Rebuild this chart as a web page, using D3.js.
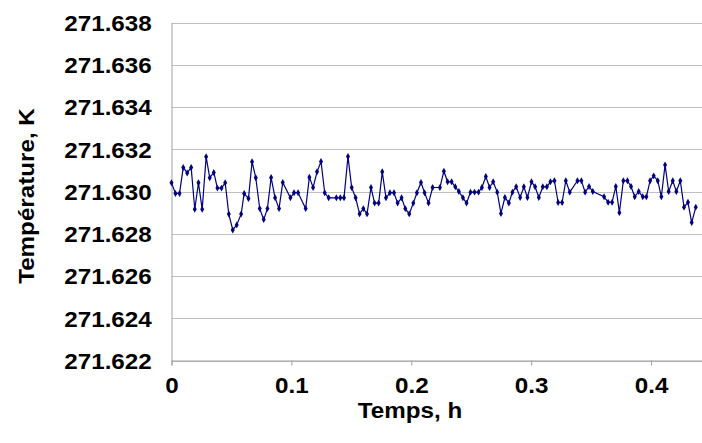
<!DOCTYPE html>
<html lang="en">
<head>
  <meta charset="UTF-8">
  <title>Température vs temps</title>
  <script src="https://cdnjs.cloudflare.com/ajax/libs/d3/7.8.5/d3.min.js"></script>
  <style>
    body {
      margin: 0;
      background: white;
    }
    svg {
      display: block;
      background: white;
    }
    text {
      font-family: "Liberation Sans", Arial, sans-serif;
      font-weight: bold;
      fill: black;
    }
    .grid line {
      stroke: #c0c0c0;
      shape-rendering: crispEdges;
    }
  </style>
</head>
<body>
  <script>
    // time, h
    var temps = [
      0.0000, 0.0033, 0.0067, 0.0098, 0.0131, 0.0164, 0.0194, 0.0225, 0.0256, 0.0289,
      0.0319, 0.0353, 0.0383, 0.0417, 0.0448, 0.0478, 0.0511, 0.0544, 0.0581, 0.0606,
      0.0642, 0.0672, 0.0703, 0.0736, 0.0769, 0.0800, 0.0831, 0.0864, 0.0897, 0.0928,
      0.0992, 0.1022, 0.1056, 0.1119, 0.1150, 0.1181, 0.1214, 0.1247, 0.1278, 0.1311,
      0.1375, 0.1408, 0.1439, 0.1472, 0.1503, 0.1536, 0.1569, 0.1600, 0.1631, 0.1664,
      0.1694, 0.1728, 0.1758, 0.1789, 0.1822, 0.1856, 0.1886, 0.1919, 0.1950, 0.1983,
      0.2017, 0.2047, 0.2081, 0.2111, 0.2144, 0.2178, 0.2239, 0.2272, 0.2303, 0.2336,
      0.2367, 0.2397, 0.2431, 0.2461, 0.2494, 0.2528, 0.2561, 0.2589, 0.2622, 0.2653,
      0.2683, 0.2717, 0.2748, 0.2781, 0.2814, 0.2844, 0.2875, 0.2908, 0.2939, 0.2969,
      0.3003, 0.3033, 0.3064, 0.3097, 0.3131, 0.3161, 0.3194, 0.3225, 0.3258, 0.3289,
      0.3322, 0.3386, 0.3419, 0.3450, 0.3483, 0.3514, 0.3608, 0.3642, 0.3675, 0.3706,
      0.3736, 0.3769, 0.3803, 0.3833, 0.3864, 0.3897, 0.3931, 0.3961, 0.3992, 0.4022,
      0.4056, 0.4086, 0.4117, 0.4147, 0.4181, 0.4211, 0.4244, 0.4275, 0.4308, 0.4339,
      0.4373
    ];

    // temperature, K
    var temperature = [
      271.63041, 271.62991, 271.62991, 271.63114, 271.63088, 271.63114, 271.62916, 271.63041, 271.62916, 271.63164,
      271.63065, 271.63090, 271.63016, 271.63016, 271.63041, 271.62893, 271.62818, 271.62842, 271.62893, 271.62991,
      271.62967, 271.63141, 271.63065, 271.62919, 271.62867, 271.62919, 271.63066, 271.62970, 271.62919, 271.63043,
      271.62970, 271.62994, 271.62994, 271.62919, 271.63068, 271.63019, 271.63093, 271.63142, 271.62994, 271.62970,
      271.62970, 271.62970, 271.62970, 271.63166, 271.63019, 271.62970, 271.62894, 271.62919, 271.62894, 271.63019,
      271.62945, 271.62945, 271.63093, 271.62970, 271.62994, 271.62994, 271.62945, 271.62970, 271.62919, 271.62894,
      271.62945, 271.62994, 271.63043, 271.62994, 271.62945, 271.63019, 271.63019, 271.63096, 271.63046, 271.63046,
      271.63022, 271.63000, 271.62970, 271.62945, 271.62997, 271.62997, 271.62997, 271.63019, 271.63071, 271.63019,
      271.63046, 271.62997, 271.62896, 271.62972, 271.62946, 271.62997, 271.63022, 271.62972, 271.63022, 271.62972,
      271.63046, 271.63022, 271.62972, 271.63022, 271.63022, 271.63046, 271.63051, 271.62948, 271.62948, 271.63051,
      271.62997, 271.63051, 271.63051, 271.62997, 271.63024, 271.63000, 271.62975, 271.62949, 271.62949, 271.63024,
      271.62900, 271.63051, 271.63051, 271.63024, 271.62975, 271.63000, 271.62975, 271.62975, 271.63051, 271.63074,
      271.63051, 271.62975, 271.63126, 271.63000, 271.63051, 271.63000, 271.63051, 271.62926, 271.62949, 271.62853,
      271.62926
    ];

    var xTicks = [0, 0.1, 0.2, 0.3, 0.4];
    var yTicks = [271.622, 271.624, 271.626, 271.628, 271.630, 271.632, 271.634, 271.636, 271.638];

    var w = 702;
    var h = 443;
    var plotLeft = 171.5, plotTop = 22.5, plotBottom = 360.5, plotRight = 702;
    var stretch = 1.1;

    var svg = d3.select("body").append("svg")
      .attr("width", w)
      .attr("height", h);

    var xScale = d3.scaleLinear()
      .domain([0, 0.4425])
      .range([plotLeft, plotRight]);

    var yScale = d3.scaleLinear()
      .domain([271.622, 271.638])
      .range([plotBottom, plotTop]);

    // horizontal grid lines
    svg.append("g")
      .classed("grid", true)
      .selectAll("line")
      .data(yTicks)
      .enter()
      .append("line")
      .attr("x1", plotLeft)
      .attr("x2", plotRight)
      .attr("y1", function(d) { return Math.round(yScale(d)) + 0.5; })
      .attr("y2", function(d) { return Math.round(yScale(d)) + 0.5; });

    // axes
    var xAxis = svg.append("g")
      .attr("transform", "translate(0," + plotBottom + ")")
      .call(d3.axisBottom(xScale)
        .tickValues(xTicks)
        .tickSize(5)
        .tickPadding(12)
        .tickFormat(d3.format("")));

    var yAxis = svg.append("g")
      .attr("transform", "translate(" + plotLeft + ",0)")
      .call(d3.axisLeft(yScale)
        .tickValues(yTicks)
        .tickSize(0)
        .tickPadding(18)
        .tickFormat(d3.format(".3f")));

    svg.selectAll(".domain").attr("stroke", "#a0a0a0");
    svg.selectAll(".tick line").attr("stroke", "#a0a0a0");
    svg.selectAll(".tick text")
      .attr("font-family", null)
      .attr("font-size", null)
      .style("font-size", "22px");

    yAxis.selectAll(".tick text")
      .attr("dy", "0.36em")
      .attr("transform", "scale(" + stretch + ",1)");
    xAxis.selectAll(".tick text")
      .attr("transform", "scale(" + stretch + ",1)");

    // series
    var points = temps.map(function(t, i) {
      return [t, temperature[i]];
    });

    var line = d3.line()
      .x(function(d) { return xScale(d[0]); })
      .y(function(d) { return yScale(d[1]); });

    svg.append("path")
      .datum(points)
      .attr("fill", "none")
      .attr("stroke", "#000080")
      .attr("stroke-width", 1.2)
      .attr("d", line);

    svg.selectAll(".pt")
      .data(points)
      .enter()
      .append("path")
      .classed("pt", true)
      .attr("d", d3.symbol().type(d3.symbolDiamond).size(14))
      .attr("fill", "#000080")
      .attr("transform", function(d) {
        return "translate(" + xScale(d[0]) + "," + yScale(d[1]) + ")";
      });

    // axis titles
    svg.append("text")
      .attr("text-anchor", "middle")
      .attr("transform", "translate(410,418) scale(" + stretch + ",1)")
      .style("font-size", "22px")
      .text("Temps, h");

    svg.append("text")
      .attr("text-anchor", "middle")
      .attr("transform", "translate(34,196) rotate(-90) scale(" + stretch + ",1)")
      .style("font-size", "22px")
      .text("Température, K");
  </script>
</body>
</html>
